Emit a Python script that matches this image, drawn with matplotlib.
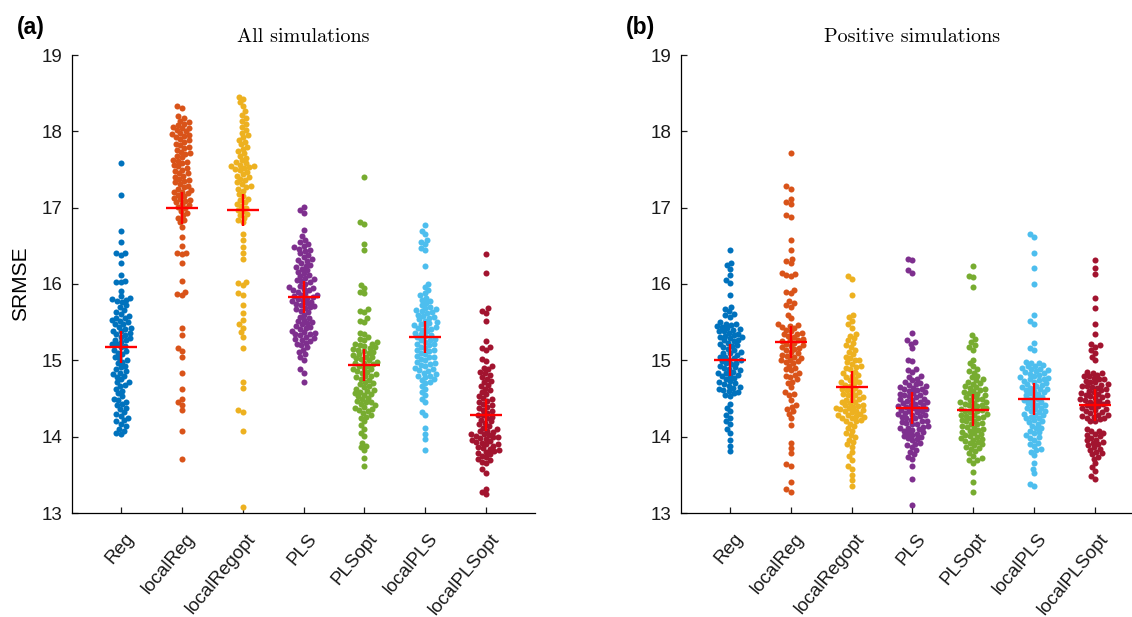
import numpy as np
import matplotlib
matplotlib.use("Agg")
import matplotlib.pyplot as plt
from matplotlib.transforms import ScaledTranslation

methods = ["Reg", "localReg", "localRegopt", "PLS", "PLSopt", "localPLS", "localPLSopt"]
colors = ["#0072BD", "#D95319", "#EDB120", "#7E2F8E", "#77AC30", "#4DBEEE", "#A2142F"]

# (a) all simulations
reg_a = [17.58, 17.17, 16.69, 16.55, 16.41, 16.40, 16.38, 16.28, 16.12, 16.04, 16.03, 16.02, 15.91,
         15.84, 15.82, 15.80, 15.79, 15.78, 15.76, 15.72, 15.70, 15.66, 15.63, 15.61,
         15.58, 15.56, 15.55, 15.53, 15.52, 15.50, 15.48, 15.47, 15.44, 15.42, 15.41, 15.39, 15.38,
         15.36, 15.34, 15.33, 15.31, 15.29, 15.27, 15.26, 15.24, 15.22, 15.21, 15.19, 15.17,
         15.14, 15.12, 15.10, 15.08, 15.05, 15.03, 15.01, 14.98, 14.96, 14.93, 14.91, 14.88, 14.86,
         14.84, 14.82, 14.80, 14.78, 14.75, 14.72, 14.71, 14.68, 14.66, 14.63, 14.60, 14.57,
         14.53, 14.50, 14.48, 14.46, 14.43, 14.41, 14.38, 14.36, 14.32, 14.30, 14.27,
         14.24, 14.22, 14.20, 14.17, 14.14, 14.10, 14.08, 14.05, 14.03]
localreg_a = [18.33, 18.30, 18.20, 18.17, 18.14, 18.12, 18.10, 18.08, 18.06, 18.05, 18.04, 18.02, 18.00,
              17.98, 17.96, 17.95, 17.94, 17.92, 17.90, 17.88, 17.86, 17.84, 17.82, 17.80,
              17.78, 17.76, 17.73, 17.71, 17.70, 17.68, 17.66, 17.63, 17.61, 17.60, 17.58, 17.56,
              17.54, 17.52, 17.50, 17.48, 17.45, 17.45, 17.42, 17.40, 17.38, 17.36, 17.35,
              17.33, 17.31, 17.29, 17.27, 17.25, 17.23, 17.21, 17.20, 17.19, 17.17, 17.15, 17.13,
              17.11, 17.10, 17.09, 17.07, 17.05, 17.03, 17.01, 16.99, 16.96, 16.93, 16.90, 16.87,
              16.84, 16.81, 16.75, 16.62, 16.50, 16.41, 16.40, 16.39, 16.27, 16.04, 15.89, 15.87,
              15.85, 15.43, 15.33, 15.16, 15.12, 15.05, 14.83, 14.63, 14.49, 14.46, 14.42, 14.35,
              14.07, 13.71]
localregopt_a = [18.45, 18.42, 18.38, 18.33, 18.27, 18.22, 18.18, 18.14, 18.10, 18.06, 18.02,
                 17.98, 17.95, 17.92, 17.89, 17.86, 17.83, 17.80, 17.77, 17.74, 17.71,
                 17.68, 17.65, 17.62, 17.60, 17.58, 17.56, 17.55, 17.54, 17.53, 17.52, 17.51, 17.49,
                 17.47, 17.44, 17.42, 17.40, 17.38, 17.36, 17.33, 17.31, 17.29, 17.27, 17.25, 17.22,
                 17.18, 17.15, 17.12, 17.10, 17.07, 17.05, 17.02, 17.00, 16.97, 16.95, 16.92, 16.90,
                 16.87, 16.84, 16.81, 16.65, 16.57, 16.49, 16.41, 16.33, 16.03, 16.01, 15.99, 15.88,
                 15.85, 15.73, 15.62, 15.53, 15.47, 15.43, 15.37, 15.31, 15.16, 14.71, 14.64, 14.35,
                 14.32, 14.07, 13.08]
pls_a = [17.01, 16.97, 16.93, 16.71, 16.63, 16.58, 16.55, 16.52, 16.50, 16.48, 16.46, 16.44, 16.43,
         16.40, 16.38, 16.35, 16.33, 16.32, 16.30, 16.27, 16.25, 16.24, 16.22, 16.20, 16.18, 16.16,
         16.14, 16.12, 16.10, 16.08, 16.06, 16.05, 16.04, 16.02, 16.00, 15.98, 15.96, 15.95, 15.94,
         15.92, 15.92, 15.90, 15.88, 15.86, 15.85, 15.84, 15.83, 15.82, 15.80, 15.79, 15.78, 15.77,
         15.75, 15.74, 15.73, 15.71, 15.70, 15.69, 15.67, 15.65, 15.63, 15.60, 15.57, 15.55, 15.53,
         15.51, 15.50, 15.49, 15.47, 15.45, 15.44, 15.43, 15.41, 15.39, 15.37, 15.36, 15.35, 15.34,
         15.33, 15.31, 15.29, 15.28, 15.27, 15.25, 15.23, 15.22, 15.20, 15.17, 15.14, 15.11, 15.08,
         15.05, 15.00, 14.88, 14.84, 14.71]
plsopt_a = [17.40, 16.81, 16.79, 16.53, 16.45, 15.99, 15.95, 15.90, 15.88, 15.67, 15.65, 15.63,
            15.55, 15.52, 15.50, 15.36, 15.34, 15.30, 15.28, 15.26, 15.24, 15.22, 15.21, 15.20,
            15.19, 15.17, 15.16, 15.15, 15.14, 15.12, 15.11, 15.10, 15.08, 15.07, 15.05, 15.04,
            15.03, 15.02, 15.00, 14.98, 14.97, 14.96, 14.95, 14.93, 14.92, 14.90, 14.89, 14.88,
            14.86, 14.85, 14.84, 14.82, 14.80, 14.79, 14.78, 14.76, 14.74, 14.72, 14.70, 14.69,
            14.67, 14.65, 14.63, 14.61, 14.60, 14.59, 14.57, 14.56, 14.55, 14.53, 14.51, 14.49,
            14.47, 14.46, 14.45, 14.43, 14.41, 14.39, 14.37, 14.36, 14.35, 14.33, 14.31, 14.28,
            14.26, 14.24, 14.20, 14.15, 14.10, 14.05, 14.01, 13.92, 13.88, 13.86, 13.82, 13.72,
            13.61]
localpls_a = [16.77, 16.70, 16.66, 16.58, 16.55, 16.52, 16.47, 16.45, 16.24, 16.00, 15.96, 15.92,
              15.88, 15.85, 15.82, 15.79, 15.78, 15.75, 15.72, 15.70, 15.68, 15.67, 15.66, 15.64,
              15.63, 15.62, 15.60, 15.58, 15.57, 15.56, 15.54, 15.52, 15.50, 15.49, 15.48, 15.46,
              15.45, 15.44, 15.42, 15.41, 15.40, 15.38, 15.36, 15.34, 15.33, 15.32, 15.30, 15.28,
              15.27, 15.26, 15.24, 15.22, 15.21, 15.20, 15.18, 15.16, 15.14, 15.13, 15.12, 15.10,
              15.08, 15.06, 15.05, 15.04, 15.02, 15.00, 14.98, 14.96, 14.95, 14.94, 14.92, 14.90,
              14.88, 14.87, 14.86, 14.84, 14.82, 14.80, 14.79, 14.78, 14.76, 14.74, 14.72, 14.70,
              14.66, 14.62, 14.58, 14.54, 14.50, 14.46, 14.32, 14.28, 14.11, 14.04, 13.97, 13.82]
localplsopt_a = [16.39, 16.15, 15.68, 15.65, 15.62, 15.52, 15.25, 15.18, 15.16, 15.14, 15.02, 14.99,
                 14.92, 14.90, 14.88, 14.85, 14.83, 14.81, 14.78, 14.76, 14.73, 14.71, 14.68, 14.66,
                 14.63, 14.61, 14.58, 14.56, 14.53, 14.51, 14.49, 14.47, 14.45, 14.43, 14.41, 14.39,
                 14.37, 14.35, 14.33, 14.31, 14.29, 14.28, 14.26, 14.24, 14.22, 14.20, 14.18, 14.16,
                 14.14, 14.12, 14.10, 14.08, 14.07, 14.06, 14.04, 14.03, 14.02, 14.01, 14.00, 13.99,
                 13.98, 13.97, 13.96, 13.94, 13.93, 13.92, 13.91, 13.90, 13.88, 13.87, 13.85, 13.84,
                 13.83, 13.81, 13.80, 13.79, 13.77, 13.75, 13.73, 13.71, 13.69, 13.67, 13.65, 13.57,
                 13.53, 13.32, 13.27, 13.25]

# (b) positive simulations
reg_b = [16.44, 16.27, 16.25, 16.20, 16.12, 16.05, 16.01, 15.85, 15.70, 15.67, 15.64, 15.61, 15.59,
         15.57, 15.50, 15.48, 15.47, 15.46, 15.45, 15.44, 15.42, 15.41, 15.40, 15.39, 15.38, 15.36,
         15.35, 15.33, 15.32, 15.31, 15.30, 15.29, 15.27, 15.26, 15.25, 15.23, 15.21, 15.20, 15.19,
         15.17, 15.15, 15.13, 15.11, 15.10, 15.09, 15.07, 15.05, 15.04, 15.03, 15.01, 15.00, 14.99,
         14.97, 14.96, 14.95, 14.93, 14.91, 14.90, 14.89, 14.87, 14.85, 14.84, 14.83, 14.81, 14.80,
         14.79, 14.77, 14.75, 14.73, 14.71, 14.70, 14.69, 14.67, 14.65, 14.64, 14.63, 14.61, 14.60,
         14.59, 14.57, 14.55, 14.53, 14.43, 14.38, 14.33, 14.28, 14.24, 14.20, 14.16, 14.10, 14.05,
         13.95, 13.88, 13.81]
localreg_b = [17.72, 17.28, 17.25, 17.12, 17.08, 17.05, 16.90, 16.88, 16.57, 16.44, 16.33, 16.30,
              16.27, 16.15, 16.13, 16.12, 16.10, 15.92, 15.90, 15.88, 15.78, 15.75, 15.73, 15.70,
              15.60, 15.55, 15.48, 15.46, 15.45, 15.44, 15.42, 15.40, 15.38, 15.36, 15.35, 15.34,
              15.32, 15.30, 15.28, 15.27, 15.26, 15.25, 15.23, 15.21, 15.20, 15.19, 15.17, 15.16,
              15.15, 15.13, 15.11, 15.09, 15.07, 15.06, 15.05, 15.03, 15.01, 15.00, 14.99, 14.98,
              14.96, 14.93, 14.90, 14.88, 14.87, 14.84, 14.81, 14.80, 14.78, 14.75, 14.72, 14.70,
              14.65, 14.58, 14.56, 14.54, 14.48, 14.42, 14.39, 14.36, 14.33, 14.30, 14.24, 14.15,
              13.92, 13.85, 13.78, 13.64, 13.62, 13.40, 13.31, 13.28]
localregopt_b = [16.11, 16.07, 15.86, 15.60, 15.57, 15.52, 15.47, 15.43, 15.35, 15.32, 15.29, 15.26,
                 15.23, 15.20, 15.17, 15.14, 15.11, 15.08, 15.05, 15.03, 15.01, 15.00, 14.98, 14.95,
                 14.93, 14.91, 14.90, 14.88, 14.85, 14.83, 14.81, 14.80, 14.78, 14.76, 14.74, 14.72,
                 14.71, 14.70, 14.68, 14.66, 14.64, 14.62, 14.61, 14.60, 14.58, 14.56, 14.55, 14.54,
                 14.52, 14.50, 14.49, 14.48, 14.46, 14.45, 14.44, 14.42, 14.41, 14.40, 14.39, 14.38,
                 14.37, 14.36, 14.35, 14.34, 14.33, 14.32, 14.30, 14.29, 14.28, 14.27, 14.26, 14.25,
                 14.24, 14.22, 14.21, 14.20, 14.17, 14.14, 14.11, 14.08, 14.05, 14.02, 13.99, 13.96,
                 13.93, 13.90, 13.87, 13.80, 13.75, 13.70, 13.62, 13.58, 13.50, 13.43, 13.36]
pls_b = [16.33, 16.31, 16.18, 16.15, 15.36, 15.26, 15.24, 15.22, 15.16, 15.01, 14.99, 14.89, 14.87,
         14.85, 14.80, 14.78, 14.76, 14.74, 14.72, 14.70, 14.69, 14.68, 14.66, 14.65, 14.64, 14.63,
         14.62, 14.61, 14.60, 14.58, 14.57, 14.56, 14.55, 14.54, 14.53, 14.52, 14.50, 14.49, 14.48,
         14.47, 14.46, 14.45, 14.44, 14.43, 14.42, 14.41, 14.40, 14.39, 14.38, 14.37, 14.36, 14.35,
         14.34, 14.33, 14.32, 14.31, 14.30, 14.29, 14.28, 14.27, 14.26, 14.25, 14.24, 14.22, 14.21,
         14.20, 14.19, 14.18, 14.17, 14.16, 14.14, 14.13, 14.12, 14.11, 14.10, 14.09, 14.08, 14.06,
         14.05, 14.04, 14.02, 14.01, 14.00, 13.98, 13.97, 13.95, 13.92, 13.90, 13.89, 13.86, 13.83,
         13.80, 13.77, 13.74, 13.71, 13.62, 13.45, 13.10]
plsopt_b = [16.23, 16.11, 16.09, 15.96, 15.33, 15.28, 15.24, 15.20, 15.17, 15.14, 15.00, 14.96,
            14.92, 14.88, 14.86, 14.84, 14.80, 14.78, 14.75, 14.74, 14.72, 14.70, 14.69, 14.67,
            14.65, 14.64, 14.62, 14.61, 14.60, 14.58, 14.57, 14.56, 14.54, 14.53, 14.52, 14.50,
            14.49, 14.48, 14.46, 14.45, 14.44, 14.43, 14.42, 14.41, 14.40, 14.38, 14.37, 14.36,
            14.35, 14.34, 14.33, 14.32, 14.30, 14.29, 14.28, 14.27, 14.26, 14.25, 14.24, 14.22,
            14.21, 14.20, 14.18, 14.17, 14.16, 14.14, 14.13, 14.12, 14.10, 14.09, 14.08, 14.06,
            14.05, 14.04, 14.02, 14.01, 14.00, 13.98, 13.97, 13.96, 13.94, 13.93, 13.92, 13.90,
            13.89, 13.87, 13.85, 13.84, 13.81, 13.78, 13.75, 13.72, 13.70, 13.69, 13.66, 13.54,
            13.41, 13.27]
localpls_b = [16.65, 16.62, 16.40, 16.21, 16.00, 15.60, 15.51, 15.48, 15.23, 15.16, 15.13, 14.98,
              14.97, 14.96, 14.94, 14.93, 14.92, 14.90, 14.89, 14.88, 14.87, 14.86, 14.85, 14.84,
              14.82, 14.81, 14.80, 14.78, 14.77, 14.76, 14.75, 14.74, 14.73, 14.72, 14.70, 14.69,
              14.68, 14.66, 14.65, 14.64, 14.63, 14.62, 14.61, 14.60, 14.58, 14.57, 14.56, 14.54,
              14.53, 14.52, 14.50, 14.49, 14.48, 14.46, 14.45, 14.44, 14.42, 14.41, 14.40, 14.38,
              14.37, 14.36, 14.34, 14.33, 14.32, 14.30, 14.29, 14.28, 14.26, 14.25, 14.24, 14.22,
              14.20, 14.19, 14.17, 14.14, 14.12, 14.11, 14.08, 14.06, 14.05, 14.02, 13.99, 13.98,
              13.96, 13.92, 13.90, 13.88, 13.84, 13.82, 13.80, 13.76, 13.65, 13.58, 13.52, 13.38,
              13.36]
localplsopt_b = [16.31, 16.21, 16.13, 15.82, 15.68, 15.48, 15.35, 15.22, 15.20, 15.18, 15.14, 15.10,
                 15.05, 15.00, 14.85, 14.84, 14.83, 14.81, 14.80, 14.79, 14.77, 14.76, 14.75, 14.73,
                 14.72, 14.71, 14.69, 14.68, 14.67, 14.66, 14.65, 14.64, 14.63, 14.61, 14.60, 14.59,
                 14.57, 14.56, 14.55, 14.54, 14.53, 14.52, 14.51, 14.49, 14.48, 14.47, 14.46, 14.45,
                 14.44, 14.43, 14.41, 14.40, 14.39, 14.37, 14.36, 14.35, 14.33, 14.32, 14.31, 14.29,
                 14.28, 14.27, 14.26, 14.25, 14.24, 14.23, 14.21, 14.20, 14.10, 14.08, 14.07, 14.05,
                 14.04, 14.02, 14.01, 13.98, 13.96, 13.95, 13.93, 13.92, 13.90, 13.89, 13.86, 13.84,
                 13.83, 13.80, 13.78, 13.77, 13.74, 13.71, 13.65, 13.60, 13.55, 13.48, 13.45]

# red crosses
means_a = [15.18, 16.99, 16.97, 15.83, 14.94, 15.30, 14.28]
means_b = [15.01, 15.24, 14.65, 14.38, 14.35, 14.50, 14.41]

data_a = [reg_a, localreg_a, localregopt_a, pls_a, plsopt_a, localpls_a, localplsopt_a]
data_b = [reg_b, localreg_b, localregopt_b, pls_b, plsopt_b, localpls_b, localplsopt_b]


def swarm_offsets(ypix, d):
    # simple beeswarm: place points bottom-up, closest to the centre line without overlap
    xs = np.zeros(len(ypix))
    placed = []
    for i in np.argsort(ypix):
        y = ypix[i]
        near = [(px, py) for px, py in placed if abs(py - y) < d]
        cands = [0.0]
        for px, py in near:
            dx = np.sqrt(d * d - (py - y) ** 2)
            cands += [px - dx, px + dx]
        cands.sort(key=abs)
        for c in cands:
            if all((c - px) ** 2 + (y - py) ** 2 >= d * d - 1e-6 for px, py in near):
                break
        xs[i] = c
        placed.append((c, y))
    return xs


plt.rcParams["font.family"] = ["Liberation Sans", "DejaVu Sans"]

W, H, DPI = 1132, 617, 100
fig = plt.figure(figsize=(W / DPI, H / DPI), dpi=DPI)
ax_a = fig.add_axes([72 / W, 104 / H, 463 / W, 458 / H])
ax_b = fig.add_axes([681 / W, 104 / H, 463 / W, 458 / H])

for ax, data, means, title, tag in [(ax_a, data_a, means_a, "All simulations", "(a)"),
                                   (ax_b, data_b, means_b, "Positive simulations", "(b)")]:
    ax.set_xlim(0.2, 7.8)
    ax.set_ylim(13, 19)
    # pixels per data unit, for the swarm layout
    bb = ax.get_position()
    px_x = bb.width * W / 7.6
    px_y = bb.height * H / 6.0
    for k, vals in enumerate(data):
        vals = np.array(vals)
        off = swarm_offsets(vals * px_y, 4.9) / px_x
        ax.scatter(k + 1 + off, vals, s=19, color=colors[k], linewidths=0, zorder=2)
        ax.plot(k + 1, means[k], marker="+", color="red", markersize=23, mew=1.7, zorder=3)

    for s in ["top", "right"]:
        ax.spines[s].set_visible(False)
    for s in ["left", "bottom"]:
        ax.spines[s].set_linewidth(0.9)
    ax.set_yticks(range(13, 20))
    ax.set_xticks(range(1, 8))
    ax.tick_params(direction="in", length=4.5, width=0.9, labelsize=13.5, colors="#1a1a1a", pad=7)
    ax.set_xticklabels(methods, rotation=50, ha="right", va="center", rotation_mode="anchor")
    for lab in ax.get_xticklabels():
        lab.set_transform(lab.get_transform() + ScaledTranslation(0.10, -0.13, fig.dpi_scale_trans))
    ax.set_title(title, fontfamily="cmr10", fontsize=14.5, pad=9)
    fig.text(bb.x0 - 55 / W, 0.955, tag, fontsize=16.5, fontweight="bold", va="center")

ax_a.set_ylabel("SRMSE", fontsize=15, labelpad=8)

fig.savefig("out.png", dpi=DPI)
